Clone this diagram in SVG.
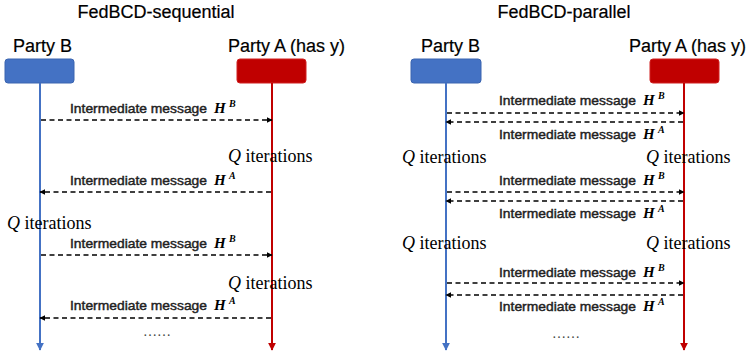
<svg xmlns="http://www.w3.org/2000/svg" width="748" height="352" viewBox="0 0 748 352">
<defs>
<marker id="ah" viewBox="0 0 10 10" refX="9" refY="5" markerWidth="6" markerHeight="6" markerUnits="userSpaceOnUse" orient="auto"><path d="M0,0 L10,5 L0,10 z" fill="#000"/></marker>
<marker id="ahBlue" viewBox="0 0 10 10" refX="9" refY="5" markerWidth="8" markerHeight="8" markerUnits="userSpaceOnUse" orient="auto"><path d="M0,0 L10,5 L0,10 z" fill="#4472C4"/></marker>
<marker id="ahRed" viewBox="0 0 10 10" refX="9" refY="5" markerWidth="8" markerHeight="8" markerUnits="userSpaceOnUse" orient="auto"><path d="M0,0 L10,5 L0,10 z" fill="#C00000"/></marker>
</defs>
<style>
.title{font-family:"Liberation Sans",Arial,sans-serif;font-size:18px;fill:#000;stroke:#000;stroke-width:0.2}
.party{font-family:"Liberation Sans",Arial,sans-serif;font-size:18px;fill:#000;stroke:#000;stroke-width:0.2}
.msg{font-family:"Liberation Sans",Arial,sans-serif;font-size:13.5px;fill:#222;stroke:#222;stroke-width:0.45}
.h{font-family:"Liberation Serif","Times New Roman",serif;font-size:15px;font-style:italic;font-weight:bold;fill:#000}
.sup{font-family:"Liberation Serif","Times New Roman",serif;font-size:10px;font-style:italic;font-weight:bold;fill:#000}
.q{font-family:"Liberation Serif","Times New Roman",serif;font-size:18px;fill:#000}
.qi{font-style:italic}
.dots{font-family:"Liberation Serif","Times New Roman",serif;font-size:14px;fill:#444}
.boxB{fill:#4472C4;stroke:#3A64B0;stroke-width:1}
.boxA{fill:#C00000;stroke:#D02020;stroke-width:1}
.lifeB{stroke:#4472C4;stroke-width:2;fill:none}
.lifeA{stroke:#C00000;stroke-width:2;fill:none}
.dash{stroke:#000;stroke-width:1.4;stroke-dasharray:5,3.5;fill:none}
</style>

<text class="title" x="156" y="18" text-anchor="middle">FedBCD-sequential</text>
<text class="title" x="564" y="18" text-anchor="middle">FedBCD-parallel</text>

<g id="seq-partyB">
<text class="party" x="13" y="52">Party B</text>
<rect class="boxB" x="5" y="59" width="69" height="24" rx="3"/>
</g>
<g id="seq-partyA">
<text class="party" x="228" y="52">Party A (has y)</text>
<rect class="boxA" x="237" y="59" width="69" height="24" rx="3"/>
</g>
<g id="par-partyB">
<text class="party" x="421" y="52">Party B</text>
<rect class="boxB" x="411" y="59" width="70" height="24" rx="3"/>
</g>
<g id="par-partyA">
<text class="party" x="629" y="52">Party A (has y)</text>
<rect class="boxA" x="650" y="59" width="69" height="24" rx="3"/>
</g>

<g id="connectors">
<line class="lifeB" x1="40" y1="83" x2="40" y2="350" marker-end="url(#ahBlue)"/>
<line class="lifeA" x1="272" y1="83" x2="272" y2="350" marker-end="url(#ahRed)"/>
<line class="lifeB" x1="446" y1="83" x2="446" y2="350" marker-end="url(#ahBlue)"/>
<line class="lifeA" x1="684" y1="83" x2="684" y2="350" marker-end="url(#ahRed)"/>

<line class="dash" x1="41" y1="120" x2="272" y2="120" marker-end="url(#ah)"/>
<line class="dash" x1="271" y1="192" x2="40" y2="192" marker-end="url(#ah)"/>
<line class="dash" x1="41" y1="255" x2="272" y2="255" marker-end="url(#ah)"/>
<line class="dash" x1="271" y1="318" x2="40" y2="318" marker-end="url(#ah)"/>

<line class="dash" x1="447" y1="113" x2="684" y2="113" marker-end="url(#ah)"/>
<line class="dash" x1="683" y1="122" x2="446" y2="122" marker-end="url(#ah)"/>
<line class="dash" x1="447" y1="192" x2="684" y2="192" marker-end="url(#ah)"/>
<line class="dash" x1="683" y1="201" x2="446" y2="201" marker-end="url(#ah)"/>
<line class="dash" x1="447" y1="283" x2="684" y2="283" marker-end="url(#ah)"/>
<line class="dash" x1="683" y1="295" x2="446" y2="295" marker-end="url(#ah)"/>
</g>

<g id="labels-seq">
<text class="msg" x="70" y="113" textLength="137" lengthAdjust="spacingAndGlyphs">Intermediate message</text><text class="h" x="214" y="113">H</text><text class="sup" x="229" y="107">B</text>
<text class="q" x="228" y="162"><tspan class="qi">Q</tspan> iterations</text>
<text class="msg" x="70" y="185" textLength="137" lengthAdjust="spacingAndGlyphs">Intermediate message</text><text class="h" x="214" y="185">H</text><text class="sup" x="229" y="179">A</text>
<text class="q" x="7" y="229"><tspan class="qi">Q</tspan> iterations</text>
<text class="msg" x="70" y="248" textLength="137" lengthAdjust="spacingAndGlyphs">Intermediate message</text><text class="h" x="214" y="248">H</text><text class="sup" x="229" y="242">B</text>
<text class="q" x="228" y="289"><tspan class="qi">Q</tspan> iterations</text>
<text class="msg" x="70" y="310" textLength="137" lengthAdjust="spacingAndGlyphs">Intermediate message</text><text class="h" x="214" y="310">H</text><text class="sup" x="229" y="304">A</text>
<text class="dots" x="143" y="336">……</text>
</g>

<g id="labels-par">
<text class="msg" x="499" y="105" textLength="137" lengthAdjust="spacingAndGlyphs">Intermediate message</text><text class="h" x="643" y="105">H</text><text class="sup" x="658" y="99">B</text>
<text class="msg" x="499" y="139" textLength="137" lengthAdjust="spacingAndGlyphs">Intermediate message</text><text class="h" x="643" y="139">H</text><text class="sup" x="658" y="133">A</text>
<text class="q" x="402" y="163"><tspan class="qi">Q</tspan> iterations</text>
<text class="q" x="646" y="163"><tspan class="qi">Q</tspan> iterations</text>
<text class="msg" x="499" y="185" textLength="137" lengthAdjust="spacingAndGlyphs">Intermediate message</text><text class="h" x="643" y="185">H</text><text class="sup" x="658" y="179">B</text>
<text class="msg" x="499" y="218" textLength="137" lengthAdjust="spacingAndGlyphs">Intermediate message</text><text class="h" x="643" y="218">H</text><text class="sup" x="658" y="212">A</text>
<text class="q" x="402" y="249"><tspan class="qi">Q</tspan> iterations</text>
<text class="q" x="646" y="249"><tspan class="qi">Q</tspan> iterations</text>
<text class="msg" x="499" y="277" textLength="137" lengthAdjust="spacingAndGlyphs">Intermediate message</text><text class="h" x="643" y="277">H</text><text class="sup" x="658" y="271">B</text>
<text class="msg" x="499" y="311" textLength="137" lengthAdjust="spacingAndGlyphs">Intermediate message</text><text class="h" x="643" y="311">H</text><text class="sup" x="658" y="305">A</text>
<text class="dots" x="552" y="338">……</text>
</g>
</svg>
